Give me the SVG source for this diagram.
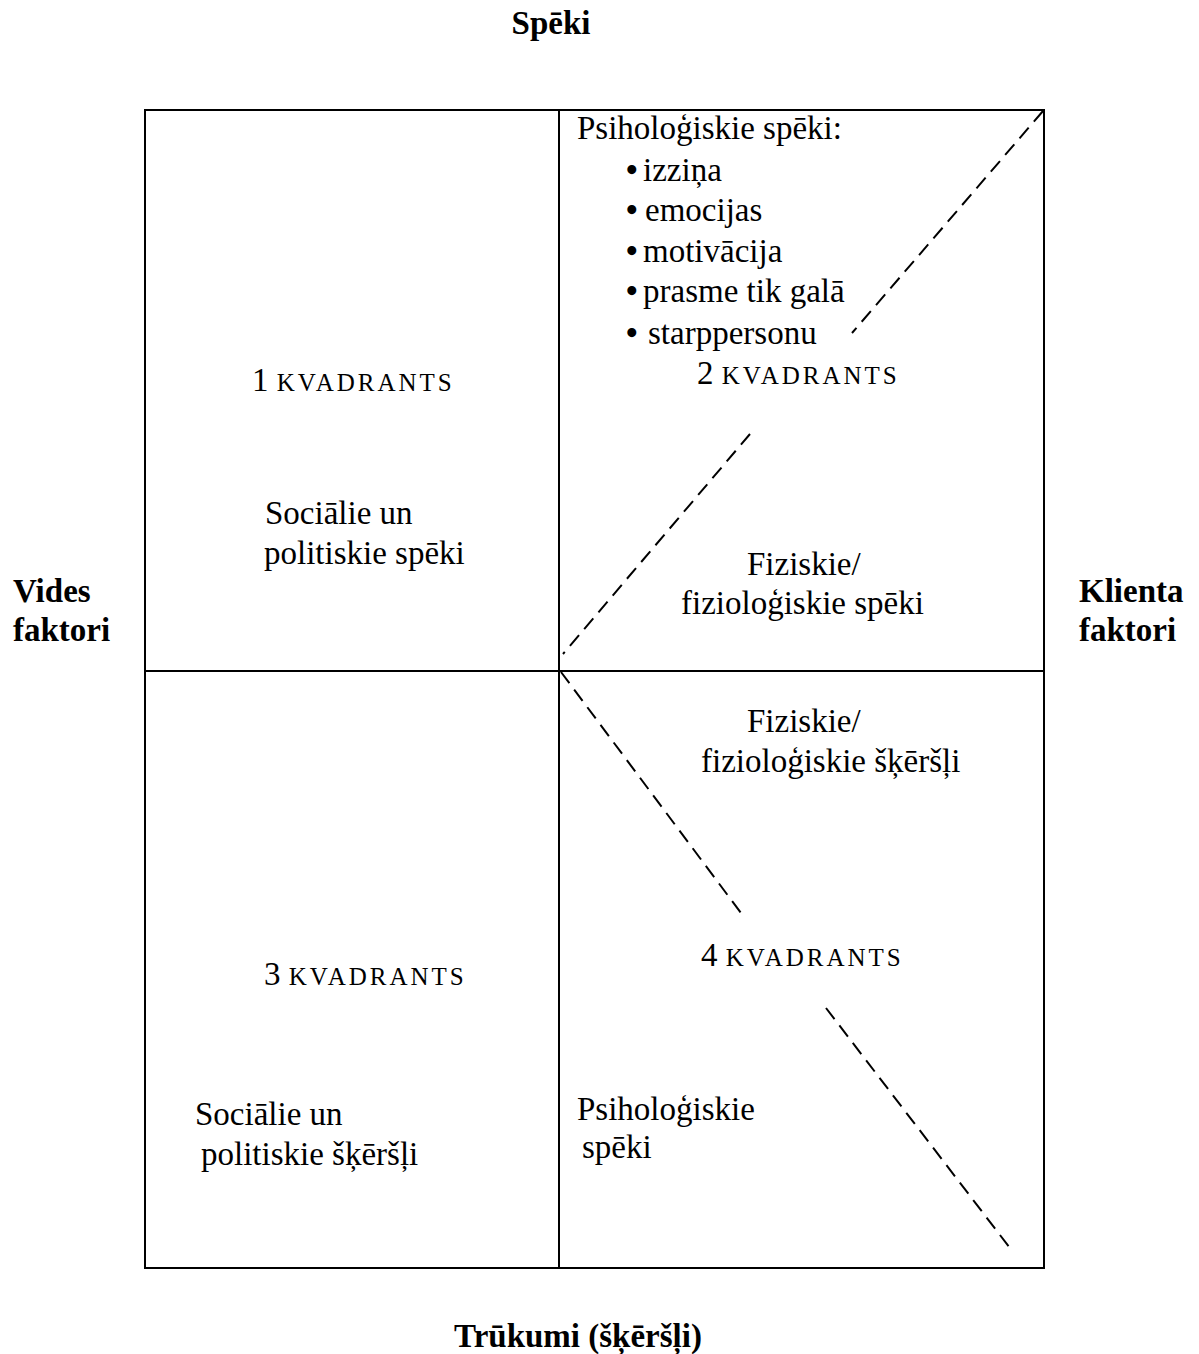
<svg xmlns="http://www.w3.org/2000/svg" width="1199" height="1354" viewBox="0 0 1199 1354">
<style>
text{font-family:"Liberation Serif","Times New Roman",serif;font-size:33px;fill:#000}
.b{font-weight:bold}
.sc{font-size:25px;letter-spacing:3px}
.bul{font-weight:bold}
.frame{fill:none;stroke:#000;stroke-width:2}
.div{stroke:#000;stroke-width:2}
.dash{stroke:#000;stroke-width:2;stroke-dasharray:14 8;fill:none}
</style>
<rect width="1199" height="1354" fill="#fff"/>
<g id="grid">
<rect class="frame" x="145" y="110" width="899" height="1158"/>
<line class="div" x1="559" y1="110" x2="559" y2="1268"/>
<line class="div" x1="145" y1="671" x2="1044" y2="671"/>
</g>
<g id="connectors">
<line class="dash" x1="1043" y1="111" x2="852" y2="333"/>
<line class="dash" x1="750" y1="434" x2="563" y2="654"/>
<line class="dash" x1="561" y1="672" x2="741" y2="913"/>
<line class="dash" x1="826" y1="1008" x2="1013" y2="1252"/>
</g>
<g id="axis-top"><text class="b" x="551" y="34" text-anchor="middle">Spēki</text></g>
<g id="axis-bottom"><text class="b" x="578" y="1347" text-anchor="middle">Trūkumi (šķēršļi)</text></g>
<g id="axis-left"><text class="b" x="13" y="602">Vides</text><text class="b" x="13" y="641">faktori</text></g>
<g id="axis-right"><text class="b" x="1079" y="602">Klienta</text><text class="b" x="1079" y="641">faktori</text></g>
<g id="q1">
<text x="252" y="391">1 <tspan class="sc">KVADRANTS</tspan></text>
<text x="265" y="524">Sociālie un</text>
<text x="264" y="564">politiskie spēki</text>
</g>
<g id="q2">
<text x="577" y="139">Psiholoģiskie spēki:</text>
<text x="626" y="181"><tspan class="bul">•</tspan><tspan x="643">izziņa</tspan></text>
<text x="626" y="221"><tspan class="bul">•</tspan><tspan x="645">emocijas</tspan></text>
<text x="626" y="262"><tspan class="bul">•</tspan><tspan x="643">motivācija</tspan></text>
<text x="626" y="302"><tspan class="bul">•</tspan><tspan x="643">prasme tik galā</tspan></text>
<text x="626" y="344"><tspan class="bul">•</tspan><tspan x="648">starppersonu</tspan></text>
<text x="697" y="384">2 <tspan class="sc">KVADRANTS</tspan></text>
<text x="747" y="575">Fiziskie/</text>
<text x="681" y="614">fizioloģiskie spēki</text>
</g>
<g id="q3">
<text x="264" y="985">3 <tspan class="sc">KVADRANTS</tspan></text>
<text x="195" y="1125">Sociālie un</text>
<text x="201" y="1165">politiskie šķēršļi</text>
</g>
<g id="q4">
<text x="747" y="732">Fiziskie/</text>
<text x="701" y="772">fizioloģiskie šķēršļi</text>
<text x="701" y="966">4 <tspan class="sc">KVADRANTS</tspan></text>
<text x="577" y="1120">Psiholoģiskie</text>
<text x="582" y="1158">spēki</text>
</g>
</svg>
